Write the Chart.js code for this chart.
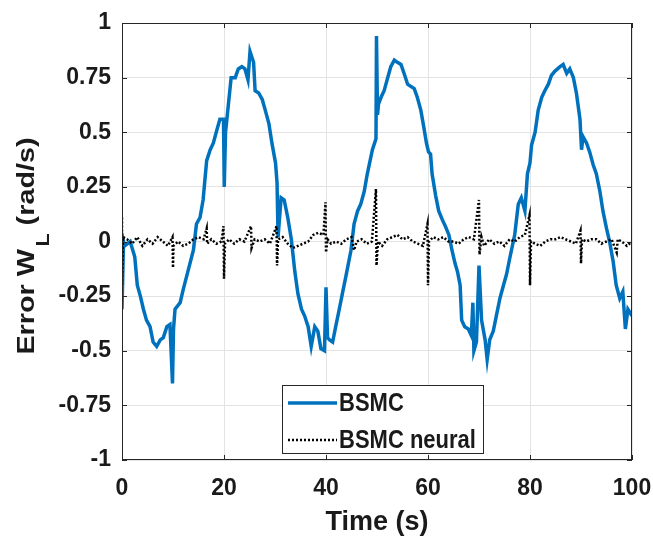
<!DOCTYPE html>
<html>
<head>
<meta charset="utf-8">
<script src="https://cdn.jsdelivr.net/npm/chart.js@4.4.1/dist/chart.umd.min.js"></script>
<style>
  html, body { margin: 0; padding: 0; background: #fff; }
  #wrap { width: 653px; height: 539px; }
</style>
</head>
<body>
<div id="wrap"><canvas id="errChart" width="653" height="539"></canvas></div>
<script>
// curve BSMC (letto a occhio dal grafico)
const bsmcT = [0, 0.3, 0.5, 1.6, 2.5, 3, 3.6, 4.2, 4.8, 5.5, 6.1, 6.8, 7.5, 8.1, 8.8, 9.4, 9.9, 10.1, 10.4, 11.4,
  12, 13, 14, 14.6, 15.3, 15.9, 16.6, 17.3, 17.9, 18.6, 19.2, 19.9, 20.05, 20.3, 21.4, 22.2, 22.8, 23.5, 24.1, 24.7,
  25.1, 25.8, 26.1, 26.8, 27.5, 28.1, 28.8, 29.4, 30.1, 30.4, 30.6, 31.2, 31.8, 32.5, 33.2, 33.9, 34.5, 35.2, 35.8, 36.5,
  37.1, 37.8, 38.4, 39, 39.7, 40, 40.3, 40.7, 41.3, 41.9, 42.6, 43.2, 43.9, 44.9, 45.5, 46.2, 46.8, 47.5, 48.1, 49.1,
  49.8, 49.9, 50.1, 50.3, 50.8, 51.4, 52.1, 52.7, 53.4, 54, 54.7, 55.3, 56, 56.6, 57.3, 57.9, 58.6, 59.2, 59.7, 60.1,
  60.5, 60.8, 61.5, 62.1, 62.8, 63.4, 64.1, 64.7, 65.3, 65.8, 66.3, 66.6, 67.2, 67.9, 68.5, 68.8, 69, 69.5, 70, 70.5,
  71.2, 71.6, 72.1, 72.8, 73.4, 74.1, 74.8, 75.4, 76, 77, 77.7, 78.3, 79, 79.5, 80, 80.3, 81, 81.6, 82.3, 82.9,
  83.6, 84.2, 84.9, 85.9, 86.5, 87.2, 87.8, 88.5, 89.1, 89.8, 90.1, 90.4, 91.1, 91.7, 92.4, 93, 93.7, 94.3, 95, 95.6,
  96.3, 96.9, 97.6, 98.2, 98.7, 99.2, 100];
const bsmcErr = [-0.31, 0, -0.02, 0, -0.07, -0.2, -0.25, -0.31, -0.36, -0.39, -0.46, -0.48, -0.45, -0.44, -0.39, -0.38, -0.65, -0.4, -0.31, -0.28,
  -0.22, -0.13, -0.04, 0.08, 0.11, 0.19, 0.37, 0.42, 0.45, 0.51, 0.56, 0.56, 0.25, 0.5, 0.75, 0.75, 0.79, 0.8, 0.79, 0.74,
  0.87, 0.82, 0.69, 0.68, 0.65, 0.6, 0.54, 0.45, 0.36, 0.27, 0.02, 0.2, 0.19, 0.11, 0.01, -0.14, -0.24, -0.31, -0.34, -0.39,
  -0.48, -0.39, -0.41, -0.49, -0.5, -0.21, -0.44, -0.45, -0.46, -0.39, -0.31, -0.24, -0.16, -0.04, 0.08, 0.14, 0.17, 0.23, 0.31, 0.42,
  0.47, 0.94, 0.58, 0.63, 0.66, 0.69, 0.75, 0.8, 0.83, 0.82, 0.81, 0.77, 0.72, 0.71, 0.7, 0.66, 0.6, 0.52, 0.45, 0.41,
  0.4, 0.31, 0.21, 0.14, 0.1, 0.07, 0.03, -0.04, -0.1, -0.14, -0.2, -0.36, -0.39, -0.4, -0.43, -0.28, -0.5, -0.46, -0.11, -0.36,
  -0.45, -0.54, -0.45, -0.41, -0.34, -0.26, -0.2, -0.15, -0.08, 0.03, 0.17, 0.2, 0.14, 0.31, 0.36, 0.44, 0.5, 0.6, 0.66, 0.69,
  0.72, 0.76, 0.78, 0.8, 0.81, 0.77, 0.79, 0.75, 0.68, 0.56, 0.42, 0.48, 0.45, 0.41, 0.35, 0.31, 0.23, 0.14, 0.06, 0,
  -0.09, -0.2, -0.26, -0.23, -0.4, -0.31, -0.34];

// curve BSMC neural
const neuralT = [0, 0, 0.2, 1, 2, 3, 4, 5, 6, 7, 8, 9, 9.9, 10, 10.1, 11, 12, 13, 14, 15,
  16, 16.6, 16.7, 17.5, 18.5, 19.5, 19.9, 20, 20.2, 21, 22, 23, 24, 25.3, 25.4, 26, 27, 28, 29, 30.3,
  30.4, 30.6, 31.5, 32.5, 33.5, 34.5, 35.5, 36.5, 37.5, 38.5, 39.5, 39.9, 40, 40.3, 41, 42, 43, 44, 45, 45.5,
  46, 47, 48, 49, 49.8, 49.9, 50.2, 51, 52, 53, 54, 55, 56, 57, 58, 59, 59.9, 60, 60.2, 61,
  62, 63, 64, 65, 66, 67, 68, 69, 70, 70.1, 70.5, 71, 72, 73, 74, 75, 76, 77, 78, 79,
  79.9, 80, 80.2, 81, 82, 83, 84, 85, 86, 87, 88, 89, 89.9, 90, 90.2, 91, 92, 93, 94, 95,
  96, 97, 97.2, 98, 99, 100];
const neuralErr = [0.11, -0.2, 0.02, 0.01, -0.01, 0.02, -0.02, 0.01, -0.01, 0.02, 0, -0.02, 0.02, -0.12, -0.02, 0, -0.02, -0.01, 0.01, 0.02,
  0.01, 0.06, -0.01, 0.01, -0.01, 0, 0.07, -0.17, -0.01, 0.01, -0.01, 0.01, 0, 0.07, -0.03, 0.01, 0, 0.01, -0.01, 0.07,
  -0.11, 0.01, 0.02, -0.01, -0.03, -0.02, -0.01, 0, 0.03, 0.04, 0.03, 0.18, -0.05, 0.01, -0.01, 0, -0.01, 0.01, 0.02, -0.04,
  0, 0.01, -0.01, 0, 0.24, -0.11, 0, -0.02, 0.01, 0.02, 0.03, 0.01, 0.02, 0, -0.01, -0.02, 0.08, -0.2, 0, 0.02,
  0.01, 0.02, 0, 0, -0.01, 0.01, 0.02, 0.01, 0.19, -0.06, 0.02, -0.02, 0.01, -0.01, 0, -0.02, 0.01, 0, 0.02, 0.03,
  0.12, -0.2, 0, -0.01, -0.02, 0, 0.01, 0.01, 0.02, 0.01, 0, -0.01, 0.05, -0.1, 0.01, 0, 0.01, 0.01, -0.01, 0,
  0.01, -0.05, 0.01, 0, -0.02, 0];

const xTicks = [0, 20, 40, 60, 80, 100];
const yTicks = [-1, -0.75, -0.5, -0.25, 0, 0.25, 0.5, 0.75, 1];
const seriesNames = ['BSMC', 'BSMC neural'];

const FONT = '"Liberation Sans", Arial, sans-serif';
const ink = '#1a1a1a';

function toPoints(t, v) {
  let out = [];
  for (let i = 0; i < t.length; i++) out.push({ x: t[i], y: v[i] });
  return out;
}

// cornice, tacche interne, titolo asse y con pedice e legenda
const extras = {
  id: 'extras',
  afterDatasetsDraw(chart) {
    const ctx = chart.ctx;
    const a = chart.chartArea;
    const sx = chart.scales.x, sy = chart.scales.y;
    ctx.save();
    ctx.strokeStyle = '#262626';
    ctx.lineWidth = 1;
    ctx.strokeRect(a.left + 0.5, a.top + 0.5, a.right - a.left - 1, a.bottom - a.top - 1);
    ctx.beginPath();
    xTicks.forEach(v => {
      const p = Math.round(sx.getPixelForValue(v)) + 0.5;
      ctx.moveTo(p, a.bottom); ctx.lineTo(p, a.bottom - 5);
      ctx.moveTo(p, a.top); ctx.lineTo(p, a.top + 5);
    });
    yTicks.forEach(v => {
      const p = Math.round(sy.getPixelForValue(v)) + 0.5;
      ctx.moveTo(a.left, p); ctx.lineTo(a.left + 5, p);
      ctx.moveTo(a.right, p); ctx.lineTo(a.right - 5, p);
    });
    ctx.stroke();

    // legenda
    const lx = 282, ly = 385, lw = 201, lh = 68;
    ctx.fillStyle = '#fff';
    ctx.fillRect(lx, ly, lw, lh);
    ctx.strokeStyle = '#262626';
    ctx.strokeRect(lx + 0.5, ly + 0.5, lw, lh);
    const ds = chart.data.datasets;
    const rows = [403, 440];
    ctx.textBaseline = 'middle';
    ctx.textAlign = 'left';
    for (let i = 0; i < 2; i++) {
      ctx.beginPath();
      ctx.strokeStyle = ds[i].borderColor;
      ctx.lineWidth = ds[i].borderWidth;
      ctx.setLineDash(ds[i].borderDash || []);
      ctx.moveTo(288, rows[i]); ctx.lineTo(337, rows[i]);
      ctx.stroke();
      ctx.setLineDash([]);
      ctx.save();
      ctx.translate(339, rows[i] + 1);
      ctx.scale(1, 1.15);
      ctx.font = 'bold 22px ' + FONT;
      ctx.fillStyle = ink;
      ctx.fillText(ds[i].label, 0, 0);
      ctx.restore();
    }

    // titolo asse y (testo un po' allungato come nell'originale)
    ctx.translate(26, 246);
    ctx.rotate(-Math.PI / 2);
    ctx.scale(1.2, 1);
    const big = 'bold 24px ' + FONT, small = 'bold 18px ' + FONT;
    ctx.font = big;
    const w1 = ctx.measureText('Error W').width;
    const w3 = ctx.measureText(' (rad/s)').width;
    ctx.font = small;
    const w2 = ctx.measureText('L').width;
    let x0 = -(w1 + w2 + w3 + 2) / 2;
    ctx.fillStyle = ink;
    ctx.textBaseline = 'alphabetic';
    ctx.font = big;
    ctx.fillText('Error W', x0, 8);
    ctx.font = small;
    ctx.fillText('L', x0 + w1 + 2, 23);
    ctx.font = big;
    ctx.fillText(' (rad/s)', x0 + w1 + w2 + 2, 8);
    ctx.restore();
  }
};

const config = {
  type: 'line',
  data: {
    datasets: [
      {
        label: seriesNames[0],
        data: toPoints(bsmcT, bsmcErr),
        borderColor: '#0072BD',
        borderWidth: 3.5,
        pointRadius: 0,
        tension: 0,
        order: 1
      },
      {
        label: seriesNames[1],
        data: toPoints(neuralT, neuralErr),
        borderColor: '#000000',
        borderWidth: 2.5,
        borderDash: [2, 2],
        pointRadius: 0,
        tension: 0,
        order: 0
      }
    ]
  },
  options: {
    responsive: false,
    animation: false,
    layout: { padding: { left: 0, right: 21, top: 23, bottom: 0 } },
    plugins: { legend: { display: false }, tooltip: { enabled: false } },
    scales: {
      x: {
        type: 'linear', min: 0, max: 100,
        afterBuildTicks: s => { s.ticks = xTicks.map(v => ({ value: v })); },
        afterFit: s => { s.height = 79; s.paddingLeft = 0; s.paddingRight = 0; },
        grid: { color: '#e3e3e3', drawTicks: false },
        border: { display: false },
        ticks: { color: ink, padding: 15, font: { family: FONT, size: 23, weight: 'bold' } },
        title: {
          display: true, text: 'Time (s)', color: ink, padding: { top: 0, bottom: 0 },
          font: { family: FONT, size: 27, weight: 'bold' }
        }
      },
      y: {
        type: 'linear', min: -1, max: 1,
        afterBuildTicks: s => { s.ticks = yTicks.map(v => ({ value: v })); },
        afterFit: s => { s.width = 122; s.paddingTop = 0; s.paddingBottom = 0; },
        grid: { color: '#e3e3e3', drawTicks: false },
        border: { display: false },
        ticks: {
          color: ink, padding: 11, font: { family: FONT, size: 23, weight: 'bold' },
          callback: v => String(v)
        }
      }
    }
  },
  plugins: [extras]
};

const errChart = new Chart(document.querySelector('#errChart'), config);
</script>
</body>
</html>
